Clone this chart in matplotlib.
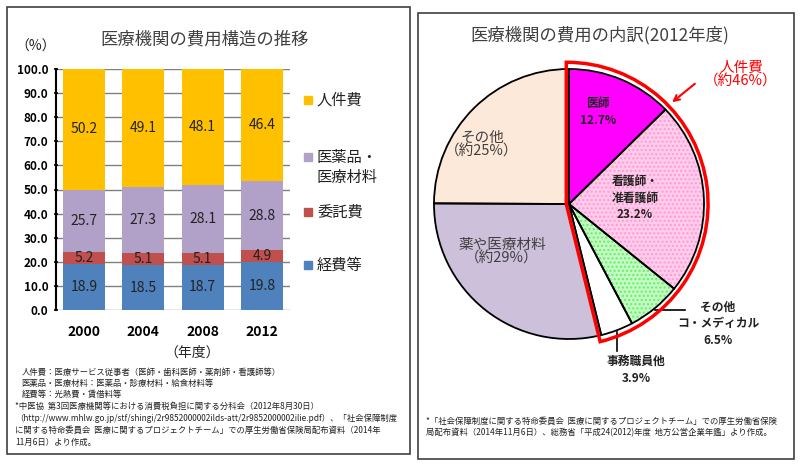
import matplotlib
matplotlib.use('Agg')
import matplotlib.pyplot as plt
from matplotlib.patches import Rectangle, Wedge
import numpy as np

plt.rcParams['font.family'] = ['Noto Sans CJK JP', 'DejaVu Sans']

# 左：費用構造の推移
years = ['2000', '2004', '2008', '2012']
keihi = [18.9, 18.5, 18.7, 19.8]
itaku = [5.2, 5.1, 5.1, 4.9]
iyaku = [25.7, 27.3, 28.1, 28.8]
jinken = [50.2, 49.1, 48.1, 46.4]
series_names = ['経費等', '委託費', '医薬品・\n医療材料', '人件費']
series_colors = ['#4F81BD', '#C0504D', '#B1A0C7', '#FFC000']

# 右：費用の内訳(2012年度)
pie_labels = ['医師', '看護師・准看護師', 'その他コ・メディカル', '事務職員他', '薬や医療材料', 'その他']
pie_values = [12.7, 23.2, 6.5, 3.9, 29, 25]
pie_colors = ['#FF00FF', '#FFCCEB', '#C4FBC4', '#FFFFFF', '#CCC0DA', '#FDE9D9']
pie_hatch_colors = ['#FF00FF', '#FF99D6', '#66EE66', '#FFFFFF', '#CCC0DA', '#FDE9D9']
pie_hatches = [None, '....', '....', None, None, None]
jinken_share = sum(pie_values[:4])

W, H = 800, 470
fig = plt.figure(figsize=(8, 4.7), dpi=100)


def fx(px):
    return px / W


def fy(py):
    return 1 - py / H


# パネル枠
fig.patches.append(Rectangle((fx(7), fy(454)), fx(403), (447) / H, transform=fig.transFigure,
                             fill=False, edgecolor='#404040', lw=1.2))
fig.patches.append(Rectangle((fx(418), fy(459)), fx(376), (446) / H, transform=fig.transFigure,
                             fill=False, edgecolor='#404040', lw=1.2))

# ---- 棒グラフ ----
ax = fig.add_axes([fx(56), fy(310), fx(234), (310 - 69) / H])
x = np.arange(len(years))
bottom = np.zeros(len(years))
for vals, name, col in zip([keihi, itaku, iyaku, jinken], series_names, series_colors):
    ax.bar(x, vals, 0.71, bottom=bottom, color=col, zorder=2)
    for xi, b, v in zip(x, bottom, vals):
        ax.text(xi, b + v / 2, f'{v:.1f}', ha='center', va='center', fontsize=10, color='#222222', zorder=3)
    bottom += np.array(vals)

ax.set_xlim(-0.47, 3.47)
ax.set_ylim(0, 100)
ax.set_yticks(np.arange(0, 101, 10))
ax.set_yticklabels([f'{v:.1f}' for v in np.arange(0, 101, 10)], fontsize=8.5, fontweight='bold')
ax.set_xticks(x)
ax.set_xticklabels(years, fontsize=10, fontweight='bold')
ax.tick_params(axis='x', length=0, pad=11)
ax.tick_params(axis='y', length=3, width=1.2, direction='inout', pad=4)
ax.yaxis.grid(True, color='#808080', lw=1, zorder=0)
for s in ['top', 'right', 'bottom']:
    ax.spines[s].set_visible(False)
ax.spines['left'].set_linewidth(1.5)

fig.text(fx(205), fy(40), '医療機関の費用構造の推移', ha='center', va='center', fontsize=12.5, color='#404040')
fig.text(fx(36), fy(47), '（%）', ha='center', va='center', fontsize=10, color='#222222')
fig.text(fx(192), fy(353), '（年度）', ha='center', va='center', fontsize=10, color='#222222')

# 凡例
legend_y = [100, 157, 212, 265]
for name, col, ly in zip(series_names[::-1], series_colors[::-1], legend_y):
    fig.patches.append(Rectangle((fx(304), fy(ly + 4)), fx(8), 8 / H, transform=fig.transFigure,
                                 color=col))
    if '\n' in name:
        fig.text(fx(317), fy(ly - 8), name, ha='left', va='top', fontsize=11, color='#222222',
                 linespacing=1.25)
    else:
        fig.text(fx(317), fy(ly), name, ha='left', va='center', fontsize=11, color='#222222')

notes_left = [
    (22, 372, '人件費：医療サービス従事者（医師・歯科医師・薬剤師・看護師等）'),
    (21, 383, '医薬品・医療材料：医薬品・診療材料・給食材料等'),
    (22, 394, '経費等：光熱費・賃借料等'),
    (15, 406, '*中医協  第3回医療機関等における消費税負担に関する分科会（2012年8月30日）'),
    (15, 418, '（http://www.mhlw.go.jp/stf/shingi/2r9852000002ilds-att/2r9852000002ilie.pdf）、「社会保障制度'),
    (15, 430, 'に関する特命委員会  医療に関するプロジェクトチーム」での厚生労働省保険局配布資料（2014年'),
    (15, 442, '11月6日）より作成。'),
]
for nx, ny, t in notes_left:
    fig.text(fx(nx), fy(ny), t, ha='left', va='center', fontsize=6, color='#222222')

# ---- 円グラフ ----
R = 135
cx, cy = 569, 204
pax = fig.add_axes([fx(cx - R), fy(cy + R), fx(2 * R), 2 * R / H])
pax.set_aspect('equal')
wedges, _ = pax.pie(pie_values, colors=pie_colors, startangle=90, counterclock=False, radius=1,
                    wedgeprops=dict(edgecolor='none', lw=0))
for w, h, hc in zip(wedges, pie_hatches, pie_hatch_colors):
    if h:
        w.set_hatch(h)
        w.set_edgecolor(hc)
        w.set_linewidth(0)
pax.pie(pie_values, startangle=90, counterclock=False, radius=1,
        wedgeprops=dict(fill=False, edgecolor='black', lw=1.3))
pax.set_xlim(-1, 1)
pax.set_ylim(-1, 1)
pax.axis('off')

# 人件費の赤枠
theta_end = 90
theta_start = 90 - 360 * jinken_share / sum(pie_values)
pax.add_patch(Wedge((-0.02, 0.0), 1.05, theta_start, theta_end, fill=False, edgecolor='#FF0000',
                    lw=2.5, clip_on=False, zorder=5))


def p2d(px, py):
    return ((px - cx) / R, (cy - py) / R)


bold = dict(ha='center', va='center', fontsize=8.5, fontweight='bold', color='#222222', linespacing=1.35)
pax.text(*p2d(598, 112), '医師\n12.7%', **bold)
pax.text(*p2d(635, 198), '看護師・\n准看護師\n23.2%', **bold)
pax.text(*p2d(718, 324), 'その他\nコ・メディカル\n6.5%', **bold)
pax.text(*p2d(636, 370), '事務職員他\n3.9%', **bold)
reg = dict(ha='center', va='center', fontsize=10.5, color='#404040', linespacing=1.0)
pax.text(*p2d(482, 145), 'その他\n（約25%）', **reg)
pax.text(*p2d(502, 252), '薬や医療材料\n（約29%）', **reg)
pax.text(*p2d(741, 75), '人件費\n（約46%）', ha='center', va='center', fontsize=10.5, color='#FF0000',
         linespacing=1.0)

pax.plot(*zip(p2d(655, 310), p2d(685, 310)), color='black', lw=1.2, clip_on=False)
pax.plot(*zip(p2d(617, 332), p2d(617, 351)), color='black', lw=1.2, clip_on=False)
pax.annotate('', xy=p2d(670, 104), xytext=p2d(697, 82),
             arrowprops=dict(arrowstyle='->', color='#FF0000', lw=1.5), annotation_clip=False)

fig.text(fx(600), fy(35), '医療機関の費用の内訳(2012年度)', ha='center', va='center', fontsize=12.5,
         color='#404040')
fig.text(fx(426), fy(421), '*「社会保障制度に関する特命委員会  医療に関するプロジェクトチーム」での厚生労働省保険',
         ha='left', va='center', fontsize=6, color='#222222')
fig.text(fx(426), fy(433), '局配布資料（2014年11月6日）、総務省「平成24(2012)年度  地方公営企業年鑑」より作成。',
         ha='left', va='center', fontsize=6, color='#222222')

fig.savefig('out.png', dpi=100)
